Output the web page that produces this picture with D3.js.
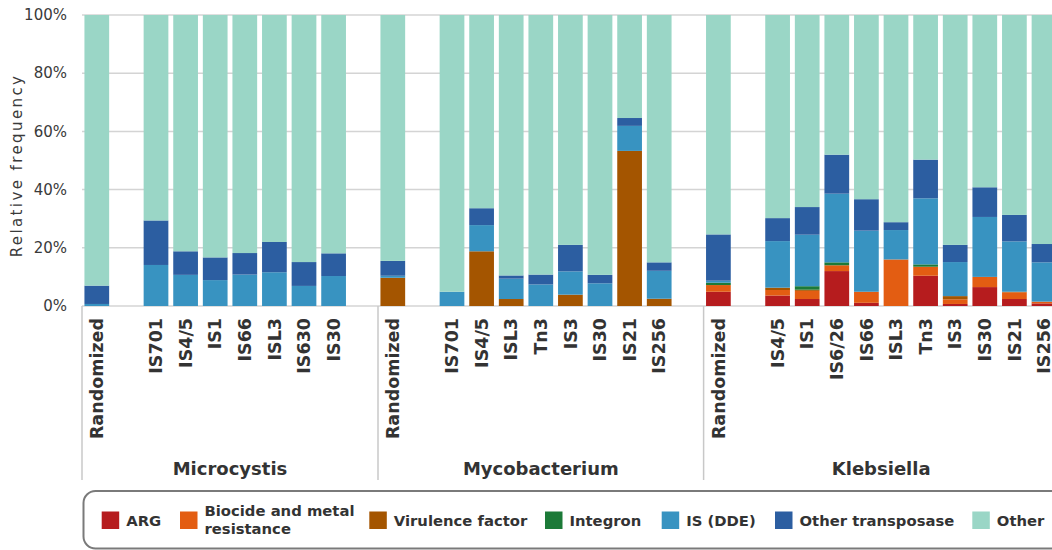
<!DOCTYPE html>
<html>
<head>
<meta charset="utf-8">
<script src="https://cdn.jsdelivr.net/npm/d3@7"></script>
<style>
  html, body { margin: 0; padding: 0; background: #fff; overflow: hidden; }
  svg { display: block; font-family: "DejaVu Sans", Verdana, sans-serif; }
</style>
</head>
<body>
<svg id="chart" width="1060" height="550"></svg>
<script>
// Genus groups and the bars within each (Randomized control first)
const groups = ["Microcystis", "Mycobacterium", "Klebsiella"];
const microcystisBars = ["Randomized", "IS701", "IS4/5", "IS1", "IS66", "ISL3", "IS630", "IS30"];
const mycobacteriumBars = ["Randomized", "IS701", "IS4/5", "ISL3", "Tn3", "IS3", "IS30", "IS21", "IS256"];
const klebsiellaBars = ["Randomized", "IS4/5", "IS1", "IS6/26", "IS66", "ISL3", "Tn3", "IS3", "IS30", "IS21", "IS256"];

// Stack components, bottom to top
const seriesNames = ["ARG", "Biocide and metal resistance", "Virulence factor", "Integron", "IS (DDE)", "Other transposase", "Other"];
const seriesColors = ["#b61c1e", "#e35d12", "#a45500", "#1c7a38", "#3893c1", "#2c5ea1", "#9ad6c6"];

// Relative frequency (%) per bar: Microcystis (8), Mycobacterium (9), Klebsiella (11)
const argValues = [
  0, 0, 0, 0, 0, 0, 0, 0,
  0, 0, 0, 0, 0, 0, 0, 0, 0,
  4.9, 3.6, 2.4, 12.0, 1.1, 0, 10.4, 0.7, 6.5, 2.4, 0.9
];
const biocideValues = [
  0, 0, 0, 0, 0, 0, 0, 0,
  0, 0, 0, 0, 0, 0, 0, 0, 0,
  2.3, 1.9, 2.8, 2.0, 3.8, 16.0, 3.1, 1.6, 3.5, 2.3, 0.6
];
const virulenceValues = [
  0, 0, 0, 0, 0, 0, 0, 0,
  9.7, 0, 18.8, 2.4, 0, 3.9, 0, 53.3, 2.5,
  0, 0.8, 0.4, 0, 0, 0, 0, 1.1, 0, 0.2, 0
];
const integronValues = [
  0, 0, 0, 0, 0, 0, 0, 0,
  0, 0, 0, 0, 0, 0, 0, 0, 0,
  0.8, 0, 1.2, 1.0, 0, 0, 0.8, 0, 0, 0, 0
];
const isDdeValues = [
  0.7, 14.1, 10.7, 8.9, 10.8, 11.6, 6.9, 10.3,
  0.7, 4.9, 9.0, 7.0, 7.4, 8.0, 7.8, 8.6, 9.6,
  0.7, 16.0, 17.7, 23.6, 21.0, 10.1, 22.7, 11.7, 20.6, 17.3, 13.5
];
const otherTransposaseValues = [
  6.3, 15.3, 8.1, 7.8, 7.4, 10.4, 8.2, 7.8,
  5.1, 0, 5.8, 1.1, 3.4, 9.1, 2.9, 2.7, 2.9,
  15.9, 7.9, 9.5, 13.4, 10.8, 2.7, 13.3, 5.9, 10.2, 9.1, 6.3
];
const otherValues = [
  93.0, 70.6, 81.2, 83.3, 81.8, 78.0, 84.9, 81.9,
  84.5, 95.1, 66.4, 89.5, 89.2, 79.0, 89.3, 35.4, 85.0,
  75.4, 69.8, 66.0, 48.0, 63.3, 71.2, 49.7, 79.0, 59.2, 68.7, 78.7
];

const yTicks = [0, 20, 40, 60, 80, 100];

// ---- build rows for d3.stack ----
const barLists = [microcystisBars, mycobacteriumBars, klebsiellaBars];
const seriesValues = [argValues, biocideValues, virulenceValues, integronValues,
                      isDdeValues, otherTransposaseValues, otherValues];
const rows = [];
barLists.forEach((bars, gi) => {
  bars.forEach(label => {
    const i = rows.length;
    const row = { key: groups[gi] + "|" + label, group: groups[gi], label };
    seriesNames.forEach((s, si) => { row[s] = seriesValues[si][i]; });
    rows.push(row);
  });
});

// Slot sequence: Randomized, a spacer, the elements, and a trailing spacer between genera
const slots = [];
const groupSlots = {};
barLists.forEach((bars, gi) => {
  const g = groups[gi];
  const start = slots.length;
  slots.push(g + "|Randomized");
  slots.push(g + "|_gap_a");
  bars.slice(1).forEach(b => slots.push(g + "|" + b));
  if (gi < groups.length - 1) slots.push(g + "|_gap_b");
  groupSlots[g] = [start, slots.length];
});

// ---- layout ----
const svg = d3.select("#chart");
const plotLeft = 82, plotTop = 15, plotBottom = 306;
const step = 29.6;
const plotRight = plotLeft + step * slots.length;

const x = d3.scaleBand()
  .domain(slots)
  .range([plotLeft, plotRight])
  .paddingInner(0.165)
  .paddingOuter(0.0825);

const y = d3.scaleLinear().domain([0, 100]).range([plotBottom, plotTop]);
const color = d3.scaleOrdinal().domain(seriesNames).range(seriesColors);

// gridlines
svg.append("g")
  .selectAll("line")
  .data(yTicks)
  .join("line")
  .attr("x1", plotLeft)
  .attr("x2", 1060)
  .attr("y1", d => y(d))
  .attr("y2", d => y(d))
  .attr("stroke", "#d4d4d4")
  .attr("stroke-width", 1.5);

// y tick labels
svg.append("g")
  .selectAll("text")
  .data(yTicks)
  .join("text")
  .attr("x", 67)
  .attr("y", d => y(d))
  .attr("dy", "0.35em")
  .attr("text-anchor", "end")
  .attr("font-size", 15)
  .attr("fill", "#3a3a3a")
  .text(d => d + "%");

// y axis title
svg.append("text")
  .attr("transform", `translate(22,${(plotTop + plotBottom) / 2 + 5}) rotate(-90)`)
  .attr("text-anchor", "middle")
  .attr("font-size", 15)
  .attr("letter-spacing", 2.4)
  .attr("fill", "#3a3a3a")
  .text("Relative frequency");

// stacked bars
const stacked = d3.stack().keys(seriesNames)(rows);
svg.append("g")
  .selectAll("g")
  .data(stacked)
  .join("g")
  .attr("fill", d => color(d.key))
  .selectAll("rect")
  .data(d => d.filter(p => p[1] - p[0] > 0))
  .join("rect")
  .attr("x", d => x(d.data.key))
  .attr("width", x.bandwidth())
  .attr("y", d => y(d[1]))
  .attr("height", d => y(d[0]) - y(d[1]));

// category labels
svg.append("g")
  .selectAll("text")
  .data(rows)
  .join("text")
  .attr("transform", d => `translate(${x(d.key) + x.bandwidth() / 2},318) rotate(-90)`)
  .attr("dy", "0.35em")
  .attr("text-anchor", "end")
  .attr("font-size", 17.5)
  .attr("font-weight", "bold")
  .attr("fill", "#333")
  .text(d => d.label);

// group separators and genus names
const groupBounds = groups.map(g => {
  const [s, e] = groupSlots[g];
  return { g, x0: plotLeft + s * step, x1: plotLeft + e * step };
});
svg.append("g")
  .selectAll("line")
  .data(groupBounds)
  .join("line")
  .attr("x1", d => d.x0)
  .attr("x2", d => d.x0)
  .attr("y1", plotBottom)
  .attr("y2", 480)
  .attr("stroke", "#c8c8c8")
  .attr("stroke-width", 1.5);

svg.append("g")
  .selectAll("text")
  .data(groupBounds)
  .join("text")
  .attr("x", d => (d.x0 + d.x1) / 2)
  .attr("y", 475)
  .attr("text-anchor", "middle")
  .attr("font-size", 18)
  .attr("font-weight", "bold")
  .attr("fill", "#333")
  .text(d => d.g);

// legend
svg.append("rect")
  .attr("x", 83.5)
  .attr("y", 491)
  .attr("width", 1040)
  .attr("height", 57.5)
  .attr("rx", 12)
  .attr("fill", "#fff")
  .attr("stroke", "#7a7a7a")
  .attr("stroke-width", 2);

const legendX = [101.7, 180, 369.3, 545, 661.7, 775, 972.3];
const legendLines = {
  "Biocide and metal resistance": ["Biocide and metal", "resistance"]
};
const legend = svg.append("g")
  .selectAll("g")
  .data(seriesNames)
  .join("g")
  .attr("transform", (d, i) => `translate(${legendX[i]},0)`);

legend.append("rect")
  .attr("x", 0)
  .attr("y", 511.5)
  .attr("width", 17.5)
  .attr("height", 17.5)
  .attr("fill", d => color(d));

legend.append("text")
  .attr("x", 24.5)
  .attr("font-size", 14.8)
  .attr("font-weight", "bold")
  .attr("fill", "#333")
  .each(function (d) {
    const lines = legendLines[d] || [d];
    const t = d3.select(this);
    const y0 = lines.length === 1 ? 525.7 : 516.3;
    lines.forEach((ln, li) => {
      t.append("tspan").attr("x", 24.5).attr("y", y0 + li * 17.5).text(ln);
    });
  });
</script>
</body>
</html>
